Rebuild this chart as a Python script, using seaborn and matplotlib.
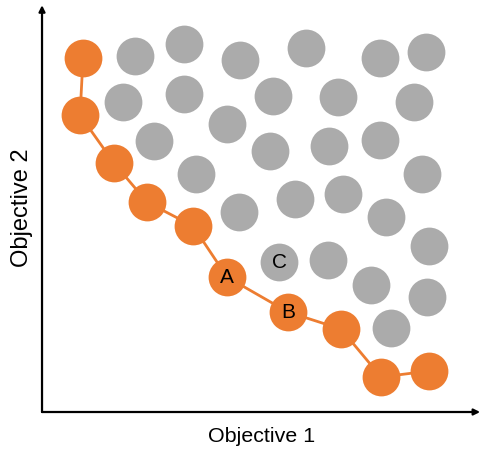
import matplotlib
matplotlib.use("Agg")
import matplotlib.pyplot as plt
import seaborn as sns
import pandas as pd

sns.set_style("white")
plt.rcParams['font.family'] = ['Liberation Sans', 'DejaVu Sans']

# pareto front (orange), in drawing order
front_x = [4.1, 3.8, 7.2, 10.5, 15.1, 18.5, 24.6, 29.9, 33.9, 38.7]
front_y = [35.4, 29.7, 24.9, 21.0, 18.6, 13.5, 10.0, 8.3, 3.5, 4.1]
front_lbl = ['', '', '', '', '', 'A', 'B', '', '', '']

# dominated solutions (gray)
dom_x = [9.3, 14.2, 19.8, 26.4, 33.8, 38.4, 8.1, 14.2, 23.1, 29.6, 37.2, 18.5, 11.2, 22.8,
         28.7, 33.8, 15.4, 38.0, 19.7, 25.3, 30.1, 34.4, 38.7, 23.7, 28.6, 32.9, 38.5, 34.9]
dom_y = [35.6, 36.8, 35.2, 36.4, 35.4, 36.0, 31.0, 31.8, 31.6, 31.5, 31.0, 28.8, 27.1, 26.1,
         26.6, 27.2, 23.8, 23.8, 20.0, 21.3, 21.8, 19.5, 16.6, 15.0, 15.2, 12.7, 11.5, 8.4]
dom_lbl = [''] * 23 + ['C'] + [''] * 4

front = pd.DataFrame({'x': front_x, 'y': front_y, 'lbl': front_lbl})
dom = pd.DataFrame({'x': dom_x, 'y': dom_y, 'lbl': dom_lbl})

orange = '#ED7D31'
gray = '#ABABAB'

fig = plt.figure(figsize=(4.83, 4.54), dpi=100)
ax = fig.add_axes([0.087, 0.0925, 0.907, 0.896])

sns.scatterplot(data=dom, x='x', y='y', s=740, color=gray, linewidth=0, ax=ax, zorder=2)
sns.lineplot(data=front, x='x', y='y', sort=False, color=orange, linewidth=2, ax=ax, zorder=3)
sns.scatterplot(data=front, x='x', y='y', s=740, color=orange, linewidth=0, ax=ax, zorder=4)

for df in (front, dom):
    for _, r in df[df['lbl'] != ''].iterrows():
        ax.text(r['x'], r['y'], r['lbl'], ha='center', va='center', fontsize=15,
                color='black', zorder=5)

ax.set_xlim(0, 43.8)
ax.set_ylim(0, 40.7)
ax.set_xticks([])
ax.set_yticks([])
ax.set_xlabel('')
ax.set_ylabel('')
for s in ax.spines.values():
    s.set_visible(False)

arrow = dict(arrowstyle='-|>', color='black', lw=1.6, mutation_scale=9, shrinkA=0, shrinkB=0)
ax.annotate('', xy=(1.0, 0), xytext=(0, 0), xycoords='axes fraction', arrowprops=arrow,
            annotation_clip=False)
ax.annotate('', xy=(0, 1.0), xytext=(0, 0), xycoords='axes fraction', arrowprops=arrow,
            annotation_clip=False)

fig.text(262 / 483, 1 - 436 / 454, 'Objective 1', ha='center', va='center', fontsize=15.4,
         color='black')
fig.text(22 / 483, 1 - 208 / 454, 'Objective 2', ha='center', va='center', fontsize=17,
         color='black', rotation=90)

fig.savefig('out.png', dpi=100)
